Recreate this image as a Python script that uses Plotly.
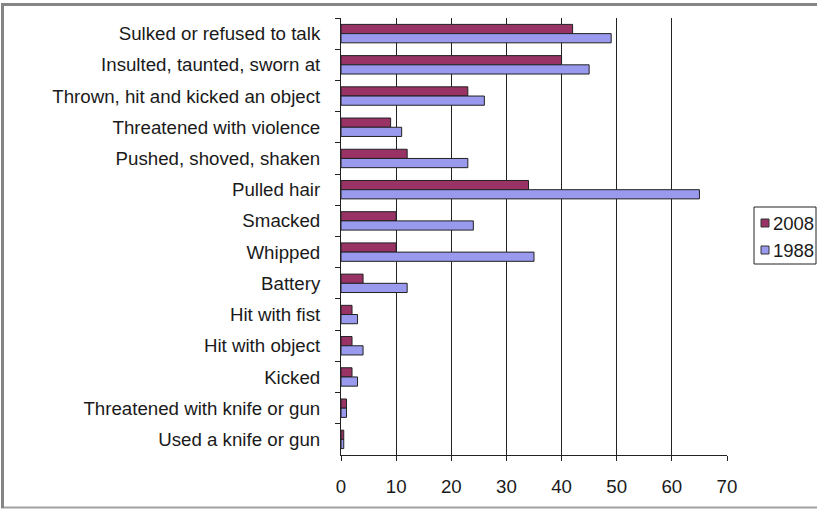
import plotly.graph_objects as go

categories = [
    "Sulked or refused to talk",
    "Insulted, taunted, sworn at",
    "Thrown, hit and kicked an object",
    "Threatened with violence",
    "Pushed, shoved, shaken",
    "Pulled hair",
    "Smacked",
    "Whipped",
    "Battery",
    "Hit with fist",
    "Hit with object",
    "Kicked",
    "Threatened with knife or gun",
    "Used a knife or gun",
]
series_names = ["2008", "1988"]
values_2008 = [42, 40, 23, 9, 12, 34, 10, 10, 4, 2, 2, 2, 1, 0.5]
values_1988 = [49, 45, 26, 11, 23, 65, 24, 35, 12, 3, 4, 3, 1, 0.5]
x_ticks = [0, 10, 20, 30, 40, 50, 60, 70]
colors = ["#993366", "#9999EE"]

FONT = "Liberation Sans, Arial, sans-serif"
W, H = 817, 510
L, R, T, B = 341, 90, 18, 55
PW, PH = W - L - R, H - T - B


def px(x):
    return (x - L) / PW


def py(y):
    return (H - B - y) / PH


fig = go.Figure()
for name, vals, col in zip(series_names, [values_2008, values_1988], colors):
    fig.add_trace(go.Bar(
        y=categories, x=vals, name=name, orientation="h",
        marker=dict(color=col, line=dict(color="#222222", width=1)),
        showlegend=False,
    ))

frame = dict(color="#858585", width=3)
shapes = [
    # outer frame (open on the right, as in the reference)
    dict(type="line", xref="paper", yref="paper",
         x0=px(1), x1=px(817), y0=py(4.5), y1=py(4.5), line=frame),
    dict(type="line", xref="paper", yref="paper",
         x0=px(1), x1=px(817), y0=py(507.5), y1=py(507.5),
         line=dict(color="#a0a0a0", width=2)),
    dict(type="line", xref="paper", yref="paper",
         x0=px(2.5), x1=px(2.5), y0=py(508), y1=py(3), line=frame),
    # legend box
    dict(type="rect", xref="paper", yref="paper",
         x0=px(754), x1=px(816), y0=py(264), y1=py(207),
         line=dict(color="#222222", width=1), fillcolor="white"),
]
annotations = []
legend_rows = [223, 250]
for name, col, yc in zip(series_names, colors, legend_rows):
    shapes.append(dict(type="rect", xref="paper", yref="paper",
                       x0=px(761), x1=px(769), y0=py(yc + 4), y1=py(yc - 4),
                       line=dict(color="#333333", width=1), fillcolor=col))
    annotations.append(dict(xref="paper", yref="paper", x=px(771), y=py(yc),
                            xanchor="left", yanchor="middle", text=name,
                            showarrow=False, font=dict(size=18.5, family=FONT,
                                                       color="#1a1a1a")))

fig.update_layout(
    width=W, height=H,
    margin=dict(l=L, r=R, t=T, b=B, autoexpand=False, pad=0),
    paper_bgcolor="white", plot_bgcolor="white",
    barmode="group", bargap=0.41, bargroupgap=0,
    font=dict(family=FONT, size=18.7, color="#1a1a1a"),
    showlegend=False,
    xaxis=dict(
        range=[0, 70], tickvals=x_ticks, ticktext=[str(v) for v in x_ticks],
        showgrid=True, gridcolor="#222222", gridwidth=1,
        showline=True, linecolor="#222222", linewidth=1,
        ticks="outside", ticklen=5, tickcolor="#222222",
        zeroline=False, ticklabelstandoff=10, automargin=False,
    ),
    yaxis=dict(
        autorange="reversed", type="category",
        showline=True, linecolor="#222222", linewidth=1,
        ticks="outside", ticklen=5, tickcolor="#222222",
        tickson="boundaries", showgrid=False, ticklabelstandoff=16,
        automargin=False,
    ),
    shapes=shapes,
    annotations=annotations,
)

fig.write_html(
    "out.html",
    config={"displayModeBar": False},
    post_script="document.body.style.margin='0';document.body.style.padding='0';",
)
